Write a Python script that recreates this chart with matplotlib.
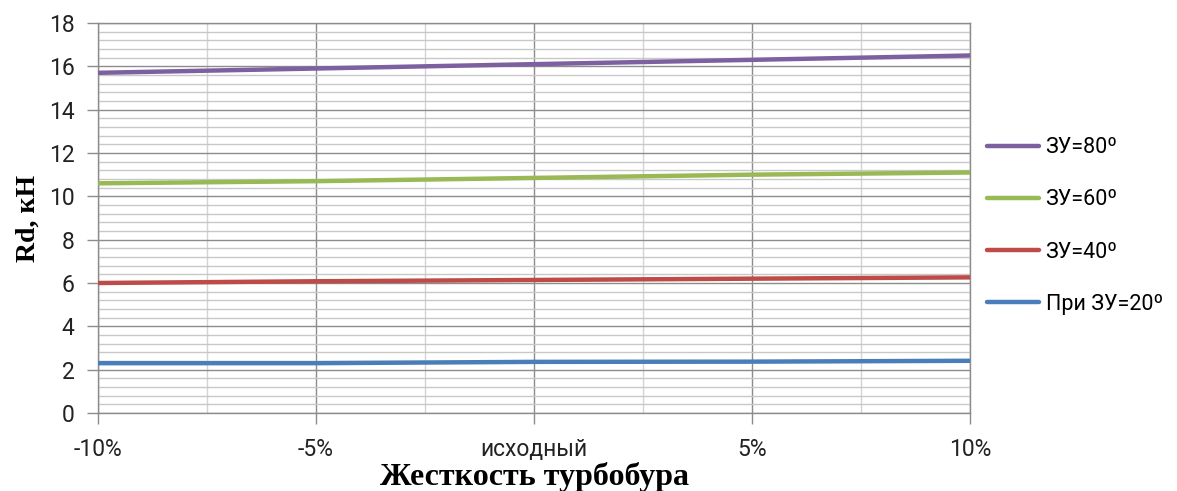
import matplotlib
matplotlib.use("Agg")
import matplotlib.pyplot as plt
import numpy as np

# Turbodrill stiffness variants and Rd values (kN) for each deflection angle
categories = ["-10%", "-5%", "исходный", "5%", "10%"]
rd_20 = [2.30, 2.30, 2.36, 2.37, 2.41]
rd_40 = [6.00, 6.08, 6.14, 6.20, 6.26]
rd_60 = [10.60, 10.70, 10.85, 11.00, 11.10]
rd_80 = [15.70, 15.90, 16.10, 16.30, 16.50]

series = [
    ("При ЗУ=20º", rd_20, "#4A7EBB"),
    ("ЗУ=40º", rd_40, "#BE4B48"),
    ("ЗУ=60º", rd_60, "#98B954"),
    ("ЗУ=80º", rd_80, "#7D60A0"),
]

tick_font = "Roboto"
label_font = "Liberation Serif"
tick_size = 16.5
legend_size = 15.5

fig = plt.figure(figsize=(11.77, 4.91), dpi=100)
ax = fig.add_axes([98 / 1177, 78 / 491, 872 / 1177, 390 / 491])

x = np.arange(len(categories))
handles = []
for name, vals, col in series:
    h, = ax.plot(x, vals, color=col, lw=3.2, solid_capstyle="round", zorder=3, label=name)
    handles.append(h)

ax.set_xlim(0, len(categories) - 1)
ax.set_ylim(0, 18)

# Grid: major lines at categories and even values, minor ones between them
ax.set_xticks(x)
ax.set_xticks(x[:-1] + 0.5, minor=True)
ax.set_yticks(np.arange(0, 19, 2))
ax.set_yticks(np.arange(0, 18.01, 0.4), minor=True)
ax.grid(which="major", axis="both", color="#8C8C8C", lw=1.0, zorder=1)
ax.grid(which="minor", axis="y", color="#C8C8C8", lw=1.0, zorder=0)
ax.grid(which="minor", axis="x", color="#D4D4D4", lw=1.0, zorder=0)

ax.set_xticklabels(categories, fontsize=tick_size, fontfamily=tick_font, color="#222222")
ax.set_yticklabels([str(v) for v in range(0, 19, 2)], fontsize=tick_size, fontfamily=tick_font,
                   color="#222222")
ax.tick_params(axis="both", which="major", direction="out", length=8, width=1.0,
               color="#8C8C8C")
ax.tick_params(axis="x", which="major", pad=10)
ax.tick_params(axis="y", which="major", pad=9)
ax.tick_params(axis="both", which="minor", length=0)

for side in ["left", "bottom", "right", "top"]:
    ax.spines[side].set_color("#8C8C8C")
    ax.spines[side].set_linewidth(1.0)

ax.set_xlabel("Жесткость турбобура", fontsize=23, fontweight="bold", fontfamily=label_font,
              labelpad=1)
ax.set_ylabel("Rd, кН", fontsize=20, fontweight="bold", fontfamily=label_font, labelpad=6)

leg = fig.legend(handles[::-1], [h.get_label() for h in handles[::-1]],
                 loc="center left", bbox_to_anchor=(968 / 1177, 1 - 226 / 491),
                 frameon=False, handlelength=2.4, handletextpad=0.3, labelspacing=1.45,
                 prop={"family": tick_font, "size": legend_size})

fig.savefig("out.png", dpi=100)
